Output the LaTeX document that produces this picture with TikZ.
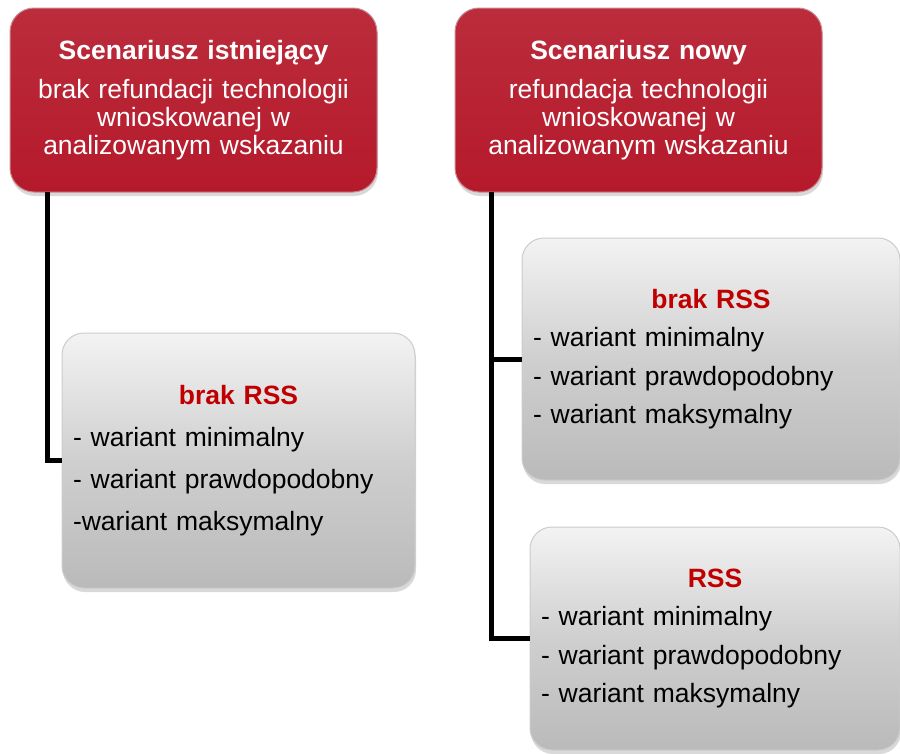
\documentclass[tikz,border=0pt]{standalone}
\usepackage{fontspec}
\setmainfont{Liberation Sans}
\usetikzlibrary{shadows}
\definecolor{scenred}{HTML}{B51A2B}
\definecolor{scenrim}{HTML}{C98A90}
\definecolor{titlered}{HTML}{C00000}
\definecolor{graytop}{HTML}{F3F3F3}
\definecolor{graymid}{HTML}{CFCFCF}
\definecolor{graybot}{HTML}{BABABA}
\tikzset{%
    scenbox/.style={%
        rounded corners=24pt, draw=scenrim, line width=1pt,
        top color=scenred!92!white, bottom color=scenred,
        drop shadow={shadow xshift=1pt, shadow yshift=-4pt, opacity=.3},
        minimum width=367pt, minimum height=184pt,
        text width=350pt, align=center, text=white,
        font=\fontsize{26.5pt}{28pt}\selectfont
    },
    wariantbox/.style={%
        rounded corners=22pt, draw=gray!40, line width=1pt,
        top color=graytop, bottom color=graybot, middle color=graymid,
        drop shadow={shadow xshift=1pt, shadow yshift=-4pt, opacity=.3},
        align=left, inner xsep=11pt,
        font=\fontsize{26.5pt}{#1}\selectfont
    },
    link/.style={line width=5pt, line join=miter}
}

\begin{document}
\begin{tikzpicture}[x=1pt,y=-1pt]
\useasboundingbox (0,0) rectangle (900,753);

\node[scenbox] (istn) at (193.5,100) {{\bfseries Scenariusz istniejący}\\[11pt]
    brak refundacji technologii\\wnioskowanej w\\analizowanym wskazaniu};
\node[scenbox] (nowy) at (638.5,100) {{\bfseries Scenariusz nowy}\\[11pt]
    refundacja technologii\\wnioskowanej w\\analizowanym wskazaniu};

\node[wariantbox=42pt, minimum width=353pt, minimum height=255pt, text width=331pt]
    (brakA) at (238.5,460.5) {\centering\textcolor{titlered}{\bfseries brak RSS}\par\raggedright
    - wariant minimalny\\- wariant prawdopodobny\\-wariant maksymalny};
\node[wariantbox=38.5pt, minimum width=378pt, minimum height=242pt, text width=356pt]
    (brakB) at (711,359) {\centering\textcolor{titlered}{\bfseries brak RSS}\par\raggedright
    - wariant minimalny\\- wariant prawdopodobny\\- wariant maksymalny};
\node[wariantbox=38.5pt, minimum width=370pt, minimum height=223pt, text width=348pt]
    (rssB) at (715,638.5) {\centering\textcolor{titlered}{\bfseries RSS}\par\raggedright
    - wariant minimalny\\- wariant prawdopodobny\\- wariant maksymalny};

\coordinate (downA) at (47.5,192);
\coordinate (downB) at (491.5,192);
\draw[link] (downA) |- (brakA.west);
\draw[link] (downB) |- (brakB.west);
\draw[link] (downB) |- (rssB.west);
\end{tikzpicture}
\end{document}
